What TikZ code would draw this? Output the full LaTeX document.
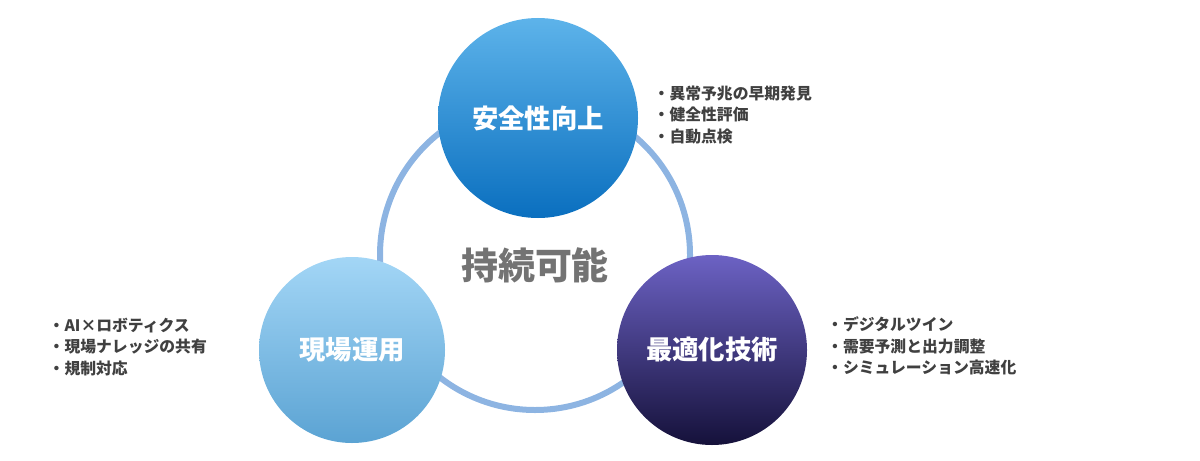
\documentclass[tikz,border=0pt]{standalone}
\usepackage{fontspec}
\setmainfont{Noto Sans CJK JP}
\usepackage{xcolor}
\usetikzlibrary{positioning}
\definecolor{ringblue}{HTML}{8DB4E2}
\definecolor{safeTop}{HTML}{5DB3EA}
\definecolor{safeBot}{HTML}{0A6FBF}
\definecolor{siteTop}{HTML}{A3D6F6}
\definecolor{siteBot}{HTML}{5BA3D3}
\definecolor{optTop}{HTML}{6C62C4}
\definecolor{optBot}{HTML}{15113A}
\definecolor{textgray}{HTML}{404040}
\tikzset{
  pillar/.style={circle, inner sep=0pt, text=white, font=\fontsize{15}{18}\selectfont\bfseries},
  bullets/.style={anchor=west, align=left, text=textgray, font=\fontsize{9}{12.2}\selectfont\bfseries}
}
\begin{document}
\begin{tikzpicture}
\useasboundingbox (0,0) rectangle (24,9.2);

\draw[ringblue, line width=1.2mm] (10.7,4.1) circle (3.1);
\node (center) at (10.7,3.9) {\fontsize{21}{24}\selectfont\bfseries\color{gray!90!black}持続可能};

\node[pillar, minimum size=4.0cm, top color=safeTop, bottom color=safeBot] (safety) at (10.76,6.84) {安全性向上};
\node[pillar, minimum size=3.72cm, top color=siteTop, bottom color=siteBot] (site) at (7.04,2.2) {現場運用};
\node[pillar, minimum size=3.8cm, top color=optTop, bottom color=optBot] (optim) at (14.24,2.2) {最適化技術};

\node[bullets] (safetyList) at (12.95,6.9) {・異常予兆の早期発見\\・健全性評価\\・自動点検};
\node[bullets] (siteList)   at (0.85,2.26) {・AI×ロボティクス\\・現場ナレッジの共有\\・規制対応};
\node[bullets] (optimList)  at (16.42,2.28) {・デジタルツイン\\・需要予測と出力調整\\・シミュレーション高速化};
\end{tikzpicture}
\end{document}
